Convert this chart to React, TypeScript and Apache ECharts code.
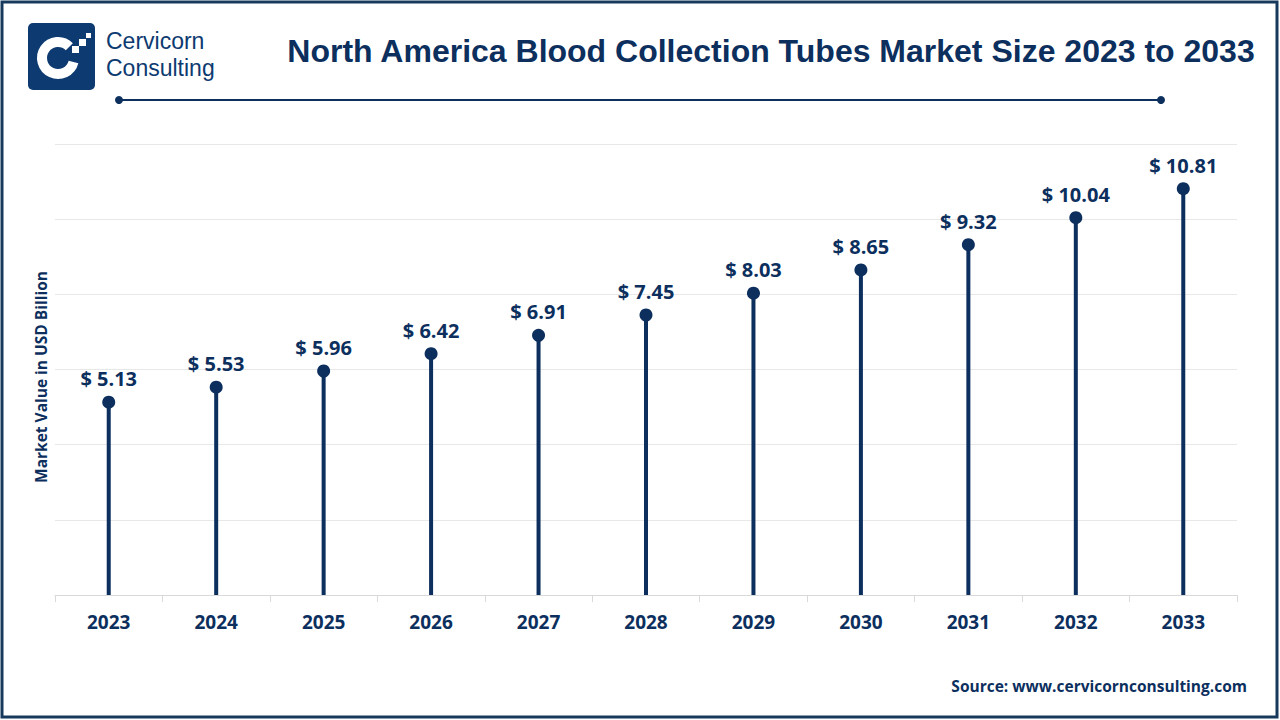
import React, { useEffect, useRef } from "react";
import * as echarts from "echarts";

const years = ["2023", "2024", "2025", "2026", "2027", "2028", "2029", "2030", "2031", "2032", "2033"];
const values = [5.13, 5.53, 5.96, 6.42, 6.91, 7.45, 8.03, 8.65, 9.32, 10.04, 10.81];
const titleText = "North America Blood Collection Tubes Market Size 2023 to 2033";
const yAxisName = "Market Value in USD Billion";
const sourceText = "Source: www.cervicornconsulting.com";
const logoLine1 = "Cervicorn";
const logoLine2 = "Consulting";

const NAVY = "#0c2f5e";

export default function App() {
  const ref = useRef<HTMLDivElement>(null);
  useEffect(() => {
    const chart = echarts.init(ref.current!, null, { renderer: "svg" });
    chart.setOption({
      animation: false,
      backgroundColor: "#ffffff",
      grid: { left: 55, right: 43, top: 144, bottom: 125 },
      xAxis: {
        type: "category",
        data: years,
        axisLine: { lineStyle: { color: "#d9d9d9", width: 1 } },
        axisTick: { show: true, length: 7, lineStyle: { color: "#d9d9d9" } },
        axisLabel: {
          color: NAVY,
          fontSize: 19,
          fontWeight: "bold",
          fontFamily: "Open Sans",
          margin: 17,
        },
      },
      yAxis: {
        type: "value",
        min: 0,
        max: 12,
        interval: 2,
        axisLabel: { show: false },
        axisLine: { show: false },
        axisTick: { show: false },
        splitLine: { lineStyle: { color: "#e8e8e8", width: 1 } },
      },
      series: [
        {
          type: "bar",
          data: values,
          barWidth: 4,
          itemStyle: { color: NAVY },
          silent: true,
        },
        {
          type: "scatter",
          data: values,
          symbol: "circle",
          symbolSize: 13,
          itemStyle: { color: NAVY, opacity: 1 },
          label: {
            show: true,
            position: "top",
            distance: 7,
            formatter: (p: any) => "$ " + p.value.toFixed(2),
            color: NAVY,
            fontSize: 20,
            fontWeight: "bold",
            fontFamily: "Open Sans",
          },
        },
      ],
      graphic: [
        {
          type: "rect",
          shape: { x: 2, y: 2, width: 1275, height: 715 },
          style: { fill: "none", stroke: "#173a5c", lineWidth: 3 },
        },
        {
          type: "rect",
          shape: { x: 28, y: 23, width: 67, height: 67, r: 5 },
          style: { fill: "#0d3a70" },
        },
        {
          type: "arc",
          shape: { cx: 58, cy: 58, r: 16, startAngle: Math.PI * 0.08, endAngle: Math.PI * 1.75, clockwise: true },
          style: { stroke: "#ffffff", lineWidth: 10, fill: "none" },
        },
        { type: "rect", shape: { x: 72, y: 46, width: 7, height: 7 }, style: { fill: "#ffffff" } },
        { type: "rect", shape: { x: 79, y: 39, width: 7, height: 7 }, style: { fill: "#ffffff" } },
        { type: "rect", shape: { x: 86, y: 33, width: 5, height: 5 }, style: { fill: "#ffffff" } },
        {
          type: "text",
          x: 106,
          y: 41,
          style: {
            text: logoLine1,
            fill: "#0d3a70",
            fontSize: 23,
            fontFamily: "Liberation Sans",
            textVerticalAlign: "middle",
          },
        },
        {
          type: "text",
          x: 106,
          y: 68,
          style: {
            text: logoLine2,
            fill: "#0d3a70",
            fontSize: 23,
            fontFamily: "Liberation Sans",
            textVerticalAlign: "middle",
          },
        },
        {
          type: "text",
          x: 41,
          y: 377,
          rotation: Math.PI / 2,
          style: {
            text: yAxisName,
            fill: NAVY,
            fontSize: 15.5,
            fontWeight: "bold",
            fontFamily: "Open Sans",
            textAlign: "center",
            textVerticalAlign: "middle",
          },
        },
        {
          type: "text",
          x: 771,
          y: 51,
          style: {
            text: titleText,
            fill: NAVY,
            fontSize: 32,
            fontWeight: "bold",
            fontFamily: "Liberation Sans",
            textAlign: "center",
            textVerticalAlign: "middle",
          },
        },
        {
          type: "line",
          shape: { x1: 119, y1: 100, x2: 1161, y2: 100 },
          style: { stroke: NAVY, lineWidth: 2 },
        },
        { type: "circle", shape: { cx: 119, cy: 100, r: 4 }, style: { fill: NAVY } },
        { type: "circle", shape: { cx: 1161, cy: 100, r: 4 }, style: { fill: NAVY } },
        {
          type: "text",
          x: 1247,
          y: 686,
          style: {
            text: sourceText,
            fill: NAVY,
            fontSize: 15.5,
            fontWeight: "bold",
            fontFamily: "Open Sans",
            textAlign: "right",
            textVerticalAlign: "middle",
          },
        },
      ],
    });
    return () => chart.dispose();
  }, []);
  return <div ref={ref} style={{ width: 1280, height: 720, position: "absolute", left: 0, top: 0 }} />;
}
